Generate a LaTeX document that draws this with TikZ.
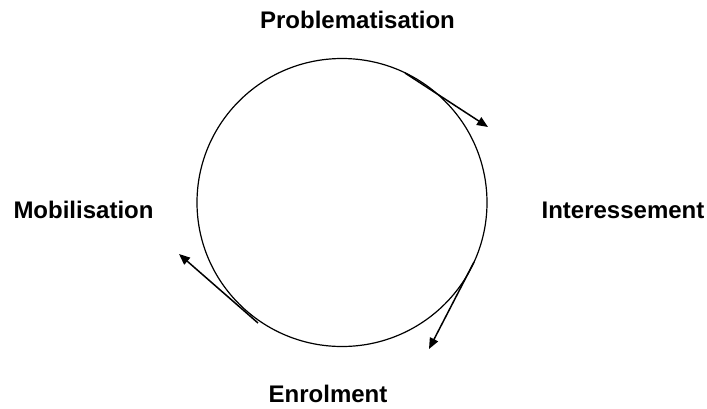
\documentclass[tikz,border=0pt]{standalone}
\usepackage{fontspec}
\setmainfont{Liberation Sans}
\usetikzlibrary{arrows.meta}
\begin{document}
\begin{tikzpicture}[x=1pt,y=-1pt,
  lbl/.style={font=\fontsize{24}{28}\selectfont\bfseries, anchor=base, inner sep=0pt},
  cyc/.style={line width=1.2pt},
  arr/.style={line width=1.5pt, -{Triangle[length=11pt,width=9pt]}}]
\useasboundingbox (0,0) rectangle (707,408);
\draw[cyc] (342,202.5) ellipse [x radius=145, y radius=144];
\node[lbl] (prob) at (357.5,28) {Problematisation};
\node[lbl] (inter) at (623,218) {Interessement};
\node[lbl] (mob) at (83.5,218) {Mobilisation};
\node[lbl] (enrol) at (328,402) {Enrolment};
\coordinate (a1s) at (405,73);
\coordinate (a1e) at (488,127);
\coordinate (a2s) at (474,262);
\coordinate (a2e) at (429,349);
\coordinate (a3s) at (258,323);
\coordinate (a3e) at (179,254);
\draw[arr] (a1s) -- (a1e);
\draw[arr] (a2s) -- (a2e);
\draw[arr] (a3s) -- (a3e);
\end{tikzpicture}
\end{document}
